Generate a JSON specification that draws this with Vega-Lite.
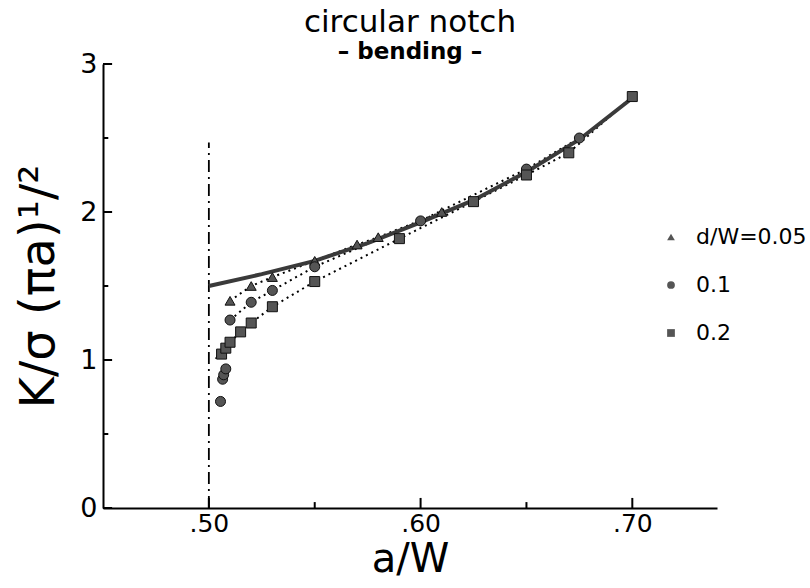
{
  "$schema": "https://vega.github.io/schema/vega-lite/v6.json",
  "autosize": "none",
  "padding": {"left": 103, "top": 64, "right": 93, "bottom": 80},
  "width": 614,
  "height": 444,
  "background": "white",
  "title": {
    "text": "circular notch",
    "subtitle": "–  bending  –",
    "anchor": "middle",
    "font": "DejaVu Sans",
    "fontSize": 31,
    "fontWeight": "normal",
    "subtitleFont": "DejaVu Sans",
    "subtitleFontSize": 23,
    "subtitleFontWeight": 600,
    "subtitleColor": "black",
    "subtitlePadding": 2,
    "color": "black",
    "offset": -15
  },
  "config": {
    "view": {"stroke": null, "fill": null},
    "axis": {"grid": false, "domainColor": "black", "domainWidth": 2, "ticks": false, "labelColor": "black", "titleColor": "black", "labelFont": "DejaVu Sans", "titleFont": "DejaVu Sans", "titleFontWeight": "normal"}
  },
  "datasets": {
    "ref": [
      {"aw": 0.5, "k": 1.5},
      {"aw": 0.525, "k": 1.58},
      {"aw": 0.55, "k": 1.67},
      {"aw": 0.575, "k": 1.79},
      {"aw": 0.6, "k": 1.93},
      {"aw": 0.625, "k": 2.08},
      {"aw": 0.65, "k": 2.27},
      {"aw": 0.675, "k": 2.49},
      {"aw": 0.7, "k": 2.77}
    ],
    "pts": [
      {"s": "d/W=0.05", "aw": 0.5055, "k": 1.04},
      {"s": "d/W=0.05", "aw": 0.51, "k": 1.4},
      {"s": "d/W=0.05", "aw": 0.52, "k": 1.5},
      {"s": "d/W=0.05", "aw": 0.53, "k": 1.56},
      {"s": "d/W=0.05", "aw": 0.55, "k": 1.67},
      {"s": "d/W=0.05", "aw": 0.57, "k": 1.78},
      {"s": "d/W=0.05", "aw": 0.58, "k": 1.83},
      {"s": "d/W=0.05", "aw": 0.61, "k": 2.0},
      {"s": "0.1", "aw": 0.5055, "k": 0.72},
      {"s": "0.1", "aw": 0.5065, "k": 0.87},
      {"s": "0.1", "aw": 0.507, "k": 0.9},
      {"s": "0.1", "aw": 0.508, "k": 0.94},
      {"s": "0.1", "aw": 0.51, "k": 1.27},
      {"s": "0.1", "aw": 0.52, "k": 1.39},
      {"s": "0.1", "aw": 0.53, "k": 1.47},
      {"s": "0.1", "aw": 0.55, "k": 1.63},
      {"s": "0.1", "aw": 0.6, "k": 1.94},
      {"s": "0.1", "aw": 0.65, "k": 2.29},
      {"s": "0.1", "aw": 0.675, "k": 2.5},
      {"s": "0.2", "aw": 0.506, "k": 1.04},
      {"s": "0.2", "aw": 0.508, "k": 1.08},
      {"s": "0.2", "aw": 0.51, "k": 1.12},
      {"s": "0.2", "aw": 0.515, "k": 1.19},
      {"s": "0.2", "aw": 0.52, "k": 1.25},
      {"s": "0.2", "aw": 0.53, "k": 1.36},
      {"s": "0.2", "aw": 0.55, "k": 1.53},
      {"s": "0.2", "aw": 0.59, "k": 1.82},
      {"s": "0.2", "aw": 0.625, "k": 2.07},
      {"s": "0.2", "aw": 0.65, "k": 2.25},
      {"s": "0.2", "aw": 0.67, "k": 2.4},
      {"s": "0.2", "aw": 0.7, "k": 2.78}
    ],
    "notch": [{"aw": 0.5, "k0": 0, "k1": 2.47}],
    "yticks": [{"v": 0}, {"v": 0.5}, {"v": 1}, {"v": 1.5}, {"v": 2}, {"v": 2.5}, {"v": 3}],
    "xticks": [{"v": 0.5}, {"v": 0.55}, {"v": 0.6}, {"v": 0.65}, {"v": 0.7}]
  },
  "layer": [
    {
      "data": {"name": "notch"},
      "mark": {"type": "rule", "color": "black", "strokeWidth": 1.8, "strokeDash": [12, 5, 2, 5]},
      "encoding": {
        "x": {"field": "aw", "type": "quantitative", "scale": {"domain": [0.45, 0.74], "nice": false, "zero": false}},
        "y": {"field": "k0", "type": "quantitative", "scale": {"domain": [0, 3], "nice": false, "zero": false}},
        "y2": {"field": "k1"}
      }
    },
    {
      "data": {"name": "pts"},
      "transform": [{"filter": "datum.aw >= 0.51"}],
      "mark": {"type": "line", "color": "black", "strokeWidth": 2, "strokeDash": [2, 4]},
      "encoding": {
        "x": {"field": "aw", "type": "quantitative"},
        "y": {"field": "k", "type": "quantitative"},
        "detail": {"field": "s"}
      }
    },
    {
      "data": {"name": "ref"},
      "mark": {"type": "line", "color": "#3a3a3a", "strokeWidth": 4},
      "encoding": {
        "x": {"field": "aw", "type": "quantitative"},
        "y": {"field": "k", "type": "quantitative"}
      }
    },
    {
      "data": {"name": "pts"},
      "mark": {"type": "point", "filled": true, "fill": "#555555", "stroke": "#111111", "strokeWidth": 1, "opacity": 1, "size": 100},
      "encoding": {
        "x": {
          "field": "aw", "type": "quantitative",
          "scale": {"domain": [0.45, 0.74], "nice": false, "zero": false},
          "axis": {
            "title": "a/W",
            "titleFontSize": 40,
            "titlePadding": 3,
            "values": [0.5, 0.6, 0.7],
            "labelExpr": "replace(format(datum.value, '.2f'), '0.', '.')",
            "labelFontSize": 25,
            "labelPadding": 3
          }
        },
        "y": {
          "field": "k", "type": "quantitative",
          "scale": {"domain": [0, 3], "nice": false, "zero": false},
          "axis": {
            "title": "K/σ (πa)¹/²",
            "titleFontSize": 48,
            "titlePadding": 16,
            "values": [0, 1, 2, 3],
            "labelExpr": "format(datum.value, 'd')",
            "labelFontSize": 27,
            "labelPadding": 6
          }
        },
        "shape": {
          "field": "s", "type": "nominal",
          "scale": {"domain": ["d/W=0.05", "0.1", "0.2"], "range": ["triangle-up", "circle", "square"]},
          "legend": {
            "title": null,
            "orient": "none",
            "legendX": 557,
            "legendY": 162,
            "labelFont": "DejaVu Sans",
            "labelFontSize": 22,
            "labelColor": "black",
            "symbolSize": 60,
            "symbolFillColor": "#555555",
            "symbolStrokeColor": "#111111",
            "symbolStrokeWidth": 1,
            "labelOffset": 14,
            "rowPadding": 26,
            "padding": 0
          }
        }
      }
    },
    {
      "data": {"name": "yticks"},
      "transform": [{"filter": "datum.v % 1 == 0"}],
      "mark": {"type": "rule", "color": "black", "strokeWidth": 2},
      "encoding": {
        "y": {"field": "v", "type": "quantitative"},
        "x": {"datum": 0.45, "type": "quantitative"},
        "x2": {"datum": 0.4543}
      }
    },
    {
      "data": {"name": "yticks"},
      "transform": [{"filter": "datum.v % 1 != 0"}],
      "mark": {"type": "rule", "color": "black", "strokeWidth": 2},
      "encoding": {
        "y": {"field": "v", "type": "quantitative"},
        "x": {"datum": 0.45, "type": "quantitative"},
        "x2": {"datum": 0.4525}
      }
    },
    {
      "data": {"name": "xticks"},
      "transform": [{"filter": "abs(datum.v*10 - round(datum.v*10)) < 0.001"}],
      "mark": {"type": "rule", "color": "black", "strokeWidth": 2},
      "encoding": {
        "x": {"field": "v", "type": "quantitative"},
        "y": {"datum": 0, "type": "quantitative"},
        "y2": {"datum": 0.068}
      }
    },
    {
      "data": {"name": "xticks"},
      "transform": [{"filter": "abs(datum.v*10 - round(datum.v*10)) >= 0.001"}],
      "mark": {"type": "rule", "color": "black", "strokeWidth": 2},
      "encoding": {
        "x": {"field": "v", "type": "quantitative"},
        "y": {"datum": 0, "type": "quantitative"},
        "y2": {"datum": 0.04}
      }
    }
  ]
}
